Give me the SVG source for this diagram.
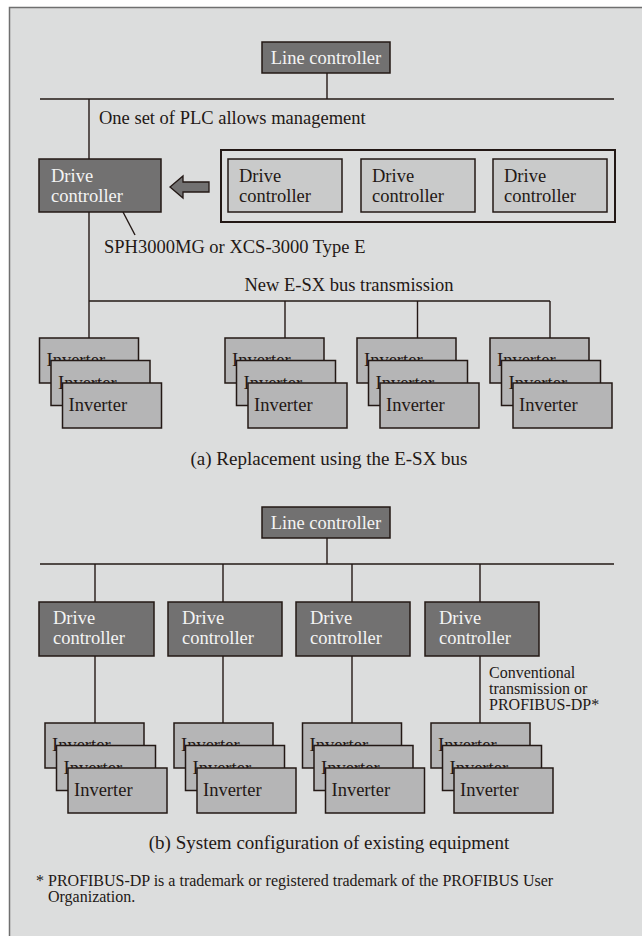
<svg xmlns="http://www.w3.org/2000/svg" width="642" height="936" viewBox="0 0 642 936">
<style>
text{font-family:'Liberation Serif','DejaVu Serif',serif;font-size:18.5px;fill:#231815}
.w{fill:#f4f4f4}
.dark{fill:#727171;stroke:#231815;stroke-width:1.5}
.lite{fill:#c9caca;stroke:#231815;stroke-width:1.5}
.inv{fill:#b5b5b6;stroke:#231815;stroke-width:1.5}
.ln{stroke:#231815;stroke-width:1.4;fill:none}
.cap{font-size:19px}
.sm{font-size:16px}
</style>
<defs>
<g id="stack">
<rect class="inv" x="0" y="0" width="99" height="45"/>
<text x="7" y="28" font-family="Liberation Serif, serif">Inverter</text>
<rect class="inv" x="11.5" y="22.5" width="99" height="45"/>
<text x="18.5" y="50.5" font-family="Liberation Serif, serif">Inverter</text>
<rect class="inv" x="23" y="45" width="99" height="45"/>
<text x="29" y="73" font-family="Liberation Serif, serif">Inverter</text>
</g>
</defs>
<rect x="9.5" y="7.5" width="700" height="1000" fill="#dcdddd" stroke="#6f6f6f" stroke-width="1.5"/>

<g id="connectors">
<line class="ln" x1="327" y1="73" x2="327" y2="99"/>
<line class="ln" x1="40" y1="99" x2="614" y2="99"/>
<line class="ln" x1="89" y1="99" x2="89" y2="159"/>
<line class="ln" x1="89" y1="212" x2="89" y2="338"/>
<line class="ln" x1="89" y1="301" x2="550" y2="301"/>
<line class="ln" x1="285" y1="301" x2="285" y2="338"/>
<line class="ln" x1="417.5" y1="301" x2="417.5" y2="338"/>
<line class="ln" x1="550" y1="301" x2="550" y2="338"/>
<line class="ln" x1="123" y1="212" x2="135" y2="235" stroke-width="1"/>
<line class="ln" x1="327" y1="538" x2="327" y2="564"/>
<line class="ln" x1="40" y1="564" x2="614" y2="564"/>
<line class="ln" x1="95" y1="564" x2="95" y2="602"/>
<line class="ln" x1="223" y1="564" x2="223" y2="602"/>
<line class="ln" x1="352" y1="564" x2="352" y2="602"/>
<line class="ln" x1="480" y1="564" x2="480" y2="602"/>
<line class="ln" x1="95" y1="656" x2="95" y2="723"/>
<line class="ln" x1="223" y1="656" x2="223" y2="723"/>
<line class="ln" x1="352" y1="656" x2="352" y2="723"/>
<line class="ln" x1="480" y1="656" x2="480" y2="723"/>
</g>

<g id="line-controller-a">
<rect class="dark" x="262" y="42" width="128" height="31"/>
<text class="w" x="326" y="64" text-anchor="middle">Line controller</text>
</g>
<text x="99" y="124">One set of PLC allows management</text>

<g id="drive-controller-a">
<rect class="dark" x="39" y="159" width="122" height="53"/>
<text class="w" x="51" y="182">Drive</text>
<text class="w" x="51" y="202">controller</text>
</g>

<g id="replace-arrow">
<path d="M170,187 L183,176 L183,182 L209,182 L209,192 L183,192 L183,198 Z" fill="#727171" stroke="#231815" stroke-width="1.3"/>
</g>

<g id="old-controllers">
<rect x="221" y="150" width="394" height="72" fill="none" stroke="#231815" stroke-width="2"/>
<g id="old-dc-1">
<rect class="lite" x="228" y="159" width="114" height="53"/>
<text x="239" y="182">Drive</text>
<text x="239" y="202">controller</text>
</g>
<g id="old-dc-2">
<rect class="lite" x="361" y="159" width="114" height="53"/>
<text x="372" y="182">Drive</text>
<text x="372" y="202">controller</text>
</g>
<g id="old-dc-3">
<rect class="lite" x="493" y="159" width="114" height="53"/>
<text x="504" y="182">Drive</text>
<text x="504" y="202">controller</text>
</g>
</g>

<text x="104" y="253">SPH3000MG or XCS-3000 Type E</text>
<text x="349" y="291" text-anchor="middle">New E-SX bus transmission</text>

<g id="inverters-a1"><use href="#stack" x="39.5" y="338"/></g>
<g id="inverters-a2"><use href="#stack" x="225" y="338"/></g>
<g id="inverters-a3"><use href="#stack" x="357" y="338"/></g>
<g id="inverters-a4"><use href="#stack" x="490" y="338"/></g>

<text class="cap" x="329" y="465" text-anchor="middle">(a) Replacement using the E-SX bus</text>

<g id="line-controller-b">
<rect class="dark" x="262" y="507" width="128" height="31"/>
<text class="w" x="326" y="529" text-anchor="middle">Line controller</text>
</g>

<g id="drive-controller-b1">
<rect class="dark" x="39" y="602" width="115" height="54"/>
<text class="w" x="53" y="624">Drive</text>
<text class="w" x="53" y="644">controller</text>
</g>
<g id="drive-controller-b2">
<rect class="dark" x="168" y="602" width="114" height="54"/>
<text class="w" x="182" y="624">Drive</text>
<text class="w" x="182" y="644">controller</text>
</g>
<g id="drive-controller-b3">
<rect class="dark" x="296" y="602" width="114" height="54"/>
<text class="w" x="310" y="624">Drive</text>
<text class="w" x="310" y="644">controller</text>
</g>
<g id="drive-controller-b4">
<rect class="dark" x="425" y="602" width="114" height="54"/>
<text class="w" x="439" y="624">Drive</text>
<text class="w" x="439" y="644">controller</text>
</g>

<text class="sm" x="489" y="678">Conventional</text>
<text class="sm" x="489" y="694">transmission or</text>
<text class="sm" x="489" y="710">PROFIBUS-DP*</text>

<g id="inverters-b1"><use href="#stack" x="45" y="723"/></g>
<g id="inverters-b2"><use href="#stack" x="174" y="723"/></g>
<g id="inverters-b3"><use href="#stack" x="302.5" y="723"/></g>
<g id="inverters-b4"><use href="#stack" x="431" y="723"/></g>

<text class="cap" x="329" y="849" text-anchor="middle">(b) System configuration of existing equipment</text>

<text class="sm" x="36" y="886">* PROFIBUS-DP is a trademark or registered trademark of the PROFIBUS User</text>
<text class="sm" x="48" y="902">Organization.</text>
</svg>
